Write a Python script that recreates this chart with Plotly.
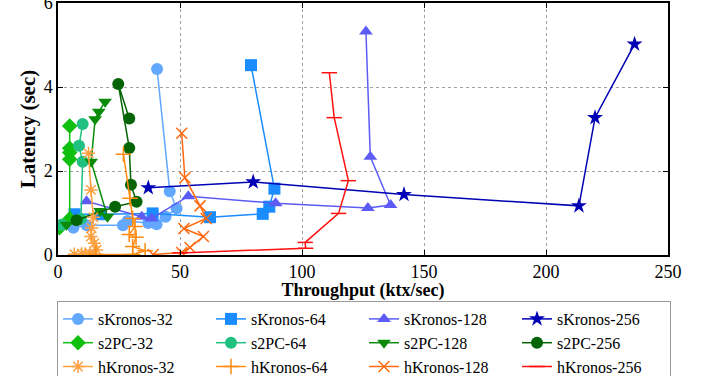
import plotly.graph_objects as go

# ---- data (throughput ktx/sec, latency sec) ----
sk32_x = [6.3, 11.8, 26.6, 28.5, 37.0, 40.4, 44.1, 48.6, 45.8, 40.6]
sk32_y = [0.65, 0.71, 0.71, 0.81, 0.76, 0.73, 0.91, 1.11, 1.52, 4.43]
sk64_x = [6.8, 17.6, 38.8, 62.3, 83.9, 86.6, 88.7, 79.1]
sk64_y = [0.97, 0.97, 0.99, 0.90, 0.98, 1.15, 1.58, 4.52]
sk128_x = [11.7, 34.3, 38.4, 53.4, 89.2, 127.0, 136.3, 128.0, 126.2]
sk128_y = [1.28, 0.91, 0.87, 1.40, 1.23, 1.12, 1.19, 2.34, 5.32]
sk256_x = [37.0, 80.0, 141.8, 213.5, 220.1, 236.3]
sk256_y = [1.60, 1.74, 1.44, 1.17, 3.27, 5.02]
s2pc32_x = [0.6, 4.8, 4.8, 4.8, 4.8, 4.8]
s2pc32_y = [0.65, 0.86, 2.28, 2.44, 2.54, 3.07]
s2pc64_x = [1.5, 9.4, 10.1, 8.6, 10.1]
s2pc64_y = [0.72, 0.86, 2.22, 2.60, 3.12]
s2pc128_x = [3.5, 17.2, 20.3, 13.6, 15.2, 16.7, 19.3]
s2pc128_y = [0.72, 1.05, 0.91, 2.22, 3.23, 3.41, 3.65]
s2pc256_x = [7.6, 23.4, 32.2, 29.9, 29.2, 24.7, 29.2]
s2pc256_y = [0.83, 1.15, 1.27, 1.67, 2.55, 4.07, 3.25]
hk32_x = [6.7, 9.7, 11.1, 13.1, 15.8, 14.9, 13.5, 13.8, 14.5, 13.5, 12.5]
hk32_y = [0.02, 0.03, 0.03, 0.04, 0.12, 0.28, 0.44, 0.64, 0.90, 1.55, 2.42]
hk64_x = [15.5, 30.6, 35.7, 30.6, 32.0, 29.2, 31.6, 30.6, 29.5, 26.8]
hk64_y = [0.01, 0.01, 0.10, 0.20, 0.42, 0.49, 0.68, 0.87, 1.35, 2.40]
hk128_x = [39.0, 50.7, 54.1, 59.6, 51.6, 60.7, 58.2, 52.0, 50.7]
hk128_y = [0.01, 0.06, 0.18, 0.44, 0.63, 0.87, 1.17, 1.84, 2.90]
hk256_x = [50.0, 101.5, 101.3, 115.0, 119.0, 113.2, 111.2]
hk256_y = [0.05, 0.16, 0.30, 0.99, 1.77, 3.27, 4.34]

series = [
    ("sKronos-32", sk32_x, sk32_y, "#62a8ff", "circle"),
    ("sKronos-64", sk64_x, sk64_y, "#1a8cff", "square"),
    ("sKronos-128", sk128_x, sk128_y, "#5c5cf5", "triangle-up"),
    ("sKronos-256", sk256_x, sk256_y, "#0000b4", "star"),
    ("s2PC-32", s2pc32_x, s2pc32_y, "#10c010", "diamond"),
    ("s2PC-64", s2pc64_x, s2pc64_y, "#20c080", "circle"),
    ("s2PC-128", s2pc128_x, s2pc128_y, "#0a8c0a", "triangle-down"),
    ("s2PC-256", s2pc256_x, s2pc256_y, "#056405", "circle"),
    ("hKronos-32", hk32_x, hk32_y, "#ffa040", "asterisk-open"),
    ("hKronos-64", hk64_x, hk64_y, "#ff8c10", "cross-thin-open"),
    ("hKronos-128", hk128_x, hk128_y, "#ff6a10", "x-thin-open"),
    ("hKronos-256", hk256_x, hk256_y, "#ff1010", "line-ew-open"),
]

fig = go.Figure()
for name, xs, ys, color, sym in series:
    open_sym = sym.endswith("open")
    fig.add_trace(go.Scatter(
        x=xs, y=ys, name=name, mode="lines+markers",
        line=dict(color=color, width=1.5),
        marker=dict(symbol=sym, size=12 if not open_sym else 11, color=color,
                    line=dict(color=color, width=1.5 if open_sym else 0)),
    ))

font = "Liberation Serif"
fig.update_layout(
    width=707, height=376,
    margin=dict(l=58, r=39, t=3, b=121, autoexpand=False),
    plot_bgcolor="white", paper_bgcolor="white",
    font=dict(family=font, size=16, color="black"),
    showlegend=True,
    legend=dict(
        orientation="h", xref="container", x=57 / 707, xanchor="left",
        yref="container", y=(376 - 301) / 376, yanchor="top",
        entrywidth=108, entrywidthmode="pixels",
        bordercolor="#999999", borderwidth=1,
        font=dict(family=font, size=16, color="black"),
        tracegroupgap=0,
    ),
)
fig.update_xaxes(
    range=[0, 250], tickvals=[0, 50, 100, 150, 200, 250],
    showgrid=True, gridcolor="#a0a0a0", griddash="dot", gridwidth=1,
    showline=True, linecolor="black", linewidth=1.5, mirror="ticks",
    ticks="inside", ticklen=5, tickcolor="black", zeroline=False,
    automargin=False, ticklabeloverflow="allow",
    title=dict(text="<b>Throughput (ktx/sec)</b>", font=dict(family=font, size=18), standoff=5),
    tickfont=dict(family=font, size=18),
)
fig.update_yaxes(
    range=[0, 6], tickvals=[0, 2, 4, 6],
    showgrid=True, gridcolor="#a0a0a0", griddash="dot", gridwidth=1,
    showline=True, linecolor="black", linewidth=1.5, mirror="ticks",
    ticks="inside", ticklen=5, tickcolor="black", zeroline=False,
    automargin=False, ticklabeloverflow="allow",
    title=dict(text="<b>Latency (sec)</b>", font=dict(family=font, size=21), standoff=2),
    tickfont=dict(family=font, size=18),
)
fig.write_html("out.html", config={"displayModeBar": False},
               post_script="document.body.style.margin='0';")
